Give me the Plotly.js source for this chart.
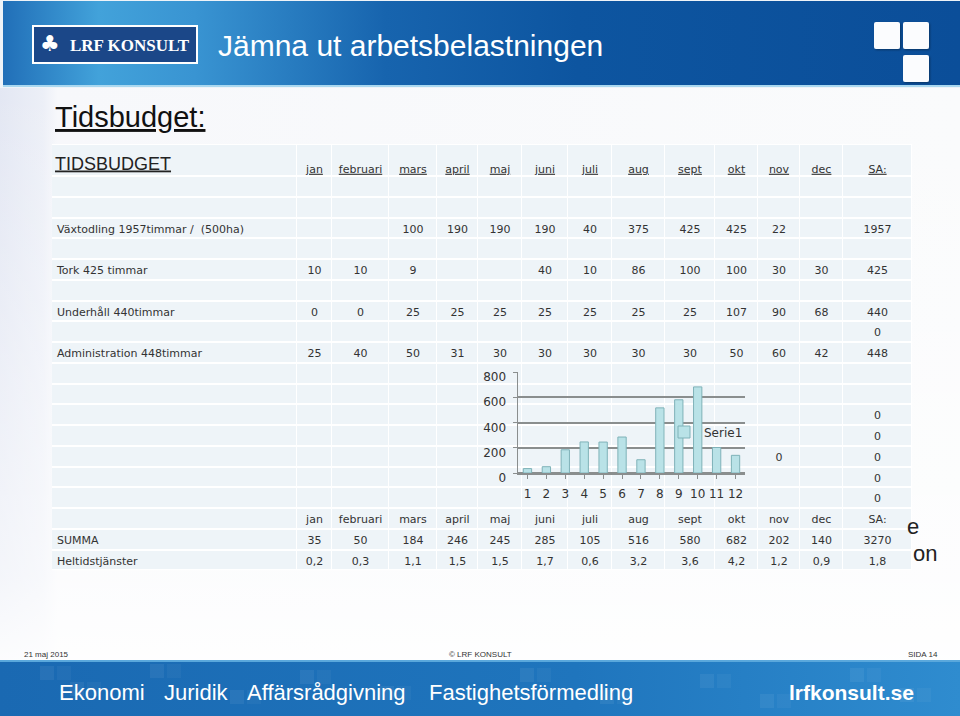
<!DOCTYPE html>
<html><head><meta charset="utf-8">
<script src="https://cdn.plot.ly/plotly-3.0.1.min.js"></script>
<style>html,body{margin:0;padding:0;background:#fff;overflow:hidden}#chart{width:960px;height:716px}</style>
</head><body><div id="chart"></div>
<script>
// ---------------- DATA ----------------
const tableTitle = 'TIDSBUDGET';
const months = ['jan','februari','mars','april','maj','juni','juli','aug','sept','okt','nov','dec'];
const totalHeader = 'SA:';
const rowLabels = ['Växtodling 1957timmar /  (500ha)','Tork 425 timmar','Underhåll 440timmar','Administration 448timmar','SUMMA','Heltidstjänster'];
const vaxtodling = [null,null,100,190,190,190,40,375,425,425,22,null];
const vaxtodlingTotal = 1957;
const tork = [10,10,9,null,null,40,10,86,100,100,30,30];
const torkTotal = 425;
const underhall = [0,0,25,25,25,25,25,25,25,107,90,68];
const underhallTotal = 440;
const administration = [25,40,50,31,30,30,30,30,30,50,60,42];
const administrationTotal = 448;
const summa = [35,50,184,246,245,285,105,516,580,682,202,140];
const summaTotal = 3270;
const heltidstjanster = ['0,2','0,3','1,1','1,5','1,5','1,7','0,6','3,2','3,6','4,2','1,2','0,9'];
const heltidTotal = '1,8';
const novZeros = [null,null,null,null,null,null,null,null,null,null,0,null];
const chartCategories = ['1','2','3','4','5','6','7','8','9','10','11','12'];
const chartSeriesName = 'Serie1';
const chartTicks = [0,200,400,600,800];

// ---------------- LAYOUT / STYLE ----------------
const W = 960, H = 716;
const px = x => x / W, py = y => 1 - y / H;
const colWidths = [245,35,57,48,41,44,46,44,53,50,43,42,43,69];
const headerHeight = 32, rowHeight = 20.75;
const tableLeft = 52, tableTop = 144;
const textColor = '#333333';
const bodyFont = 'DejaVu Sans, Verdana, sans-serif';

const blank = months.map(() => null);
const bodyRows = [
  ['', blank, null], ['', blank, null],
  [rowLabels[0], vaxtodling, vaxtodlingTotal],
  ['', blank, null],
  [rowLabels[1], tork, torkTotal],
  ['', blank, null],
  [rowLabels[2], underhall, underhallTotal],
  ['', blank, 0],
  [rowLabels[3], administration, administrationTotal],
  ['', blank, null], ['', blank, null],
  ['', blank, 0], ['', blank, 0],
  ['', novZeros, 0],
  ['', blank, 0], ['', blank, 0],
  ['', months, totalHeader],
  [rowLabels[4], summa, summaTotal],
  [rowLabels[5], heltidstjanster, heltidTotal]
];

const colEdges = [0]; colWidths.forEach(w => colEdges.push(colEdges[colEdges.length-1] + w));
const rowHeights = [headerHeight].concat(bodyRows.map(() => rowHeight));
const rowEdges = [0]; rowHeights.forEach(h => rowEdges.push(rowEdges[rowEdges.length-1] + h));
const tableW = colEdges[colEdges.length-1], tableH = rowEdges[rowEdges.length-1];
const colCenter = c => (colEdges[c] + colEdges[c+1]) / 2;
const rowCenter = r => (rowEdges[r] + rowEdges[r+1]) / 2;

const zGrid = rowHeights.map(() => colWidths.map(() => 1));
const gridTrace = {
  type: 'heatmap', x: colEdges, y: rowEdges, z: zGrid, xaxis: 'x', yaxis: 'y',
  colorscale: [[0,'#eef4f8'],[1,'#eef4f8']], showscale: false, xgap: 1, ygap: 2,
  hoverinfo: 'skip'
};

const headerTitle = {
  type: 'scatter', mode: 'text', xaxis: 'x', yaxis: 'y', hoverinfo: 'skip', showlegend: false,
  x: [3], y: [21], text: ['<u>' + tableTitle + '</u>'], textposition: 'middle right',
  textfont: {family: 'Liberation Sans, Arial, sans-serif', size: 18, color: '#222'}
};
const headerCols = months.concat([totalHeader]);
const headerMonths = {
  type: 'scatter', mode: 'text', xaxis: 'x', yaxis: 'y', hoverinfo: 'skip', showlegend: false,
  x: headerCols.map((m,i) => colCenter(i+1)), y: headerCols.map(() => 26),
  text: headerCols.map(m => '<u>' + m + '</u>'), textposition: 'middle center',
  textfont: {family: bodyFont, size: 11, color: textColor}
};

const lx = [], ly = [], lt = [], vx = [], vy = [], vt = [];
bodyRows.forEach((row, i) => {
  const r = i + 1, yy = rowCenter(r) + 2;
  if (row[0]) { lx.push(5); ly.push(yy); lt.push(row[0]); }
  row[1].forEach((v, c) => { if (v !== null) { vx.push(colCenter(c+1)); vy.push(yy); vt.push(String(v)); } });
  if (row[2] !== null) { vx.push(colCenter(13)); vy.push(yy); vt.push(String(row[2])); }
});
const labelText = {
  type: 'scatter', mode: 'text', xaxis: 'x', yaxis: 'y', hoverinfo: 'skip', showlegend: false,
  x: lx, y: ly, text: lt, textposition: 'middle right',
  textfont: {family: bodyFont, size: 11, color: textColor}
};
const valueText = {
  type: 'scatter', mode: 'text', xaxis: 'x', yaxis: 'y', hoverinfo: 'skip', showlegend: false,
  x: vx, y: vy, text: vt, textposition: 'middle center',
  textfont: {family: bodyFont, size: 11, color: textColor}
};

const barTrace = {
  type: 'bar', x: chartCategories, y: summa, name: chartSeriesName, xaxis: 'x2', yaxis: 'y2',
  marker: {color: '#b9e2e7', line: {color: '#7fb2b8', width: 1}}, showlegend: true,
  hoverinfo: 'x+y'
};

function svgURI(s) { return 'data:image/svg+xml;charset=utf-8,' + encodeURIComponent(s); }
const topSvg = `<svg xmlns="http://www.w3.org/2000/svg" width="960" height="88" viewBox="0 0 960 88">
<defs><linearGradient id="g" x1="0" y1="0" x2="1" y2="0">
<stop offset="0" stop-color="#216fb8"/><stop offset="0.1" stop-color="#42a2da"/>
<stop offset="0.2" stop-color="#3994d2"/><stop offset="0.4" stop-color="#1764ae"/>
<stop offset="0.6" stop-color="#0d55a0"/><stop offset="1" stop-color="#0b4e99"/></linearGradient>
<filter id="s"><feDropShadow dx="1" dy="1" stdDeviation="1" flood-opacity="0.35"/></filter></defs>
<rect x="0" y="0" width="960" height="88" fill="#eef3f8"/>
<rect x="3" y="1" width="957" height="84" fill="url(#g)"/>
<rect x="3" y="85" width="957" height="2" fill="#a9d8f0"/>
<g filter="url(#s)" fill="#fbfcfe">
<rect x="874" y="22" width="26" height="27" rx="2"/>
<rect x="903" y="22" width="26" height="27" rx="2"/>
<rect x="903" y="55" width="26" height="27" rx="2"/></g>
</svg>`;
let sq = '';
[[40,6],[70,22],[150,4],[230,30],[300,10],[380,26],[520,8],[600,30],[700,14],[760,34],[850,8],[900,28]].forEach(p => {
  sq += `<rect x="${p[0]}" y="${p[1]}" width="14" height="14" fill="#ffffff" fill-opacity="0.06"/>`;
  sq += `<rect x="${p[0]+17}" y="${p[1]}" width="14" height="14" fill="#ffffff" fill-opacity="0.04"/>`;
});
const footSvg = `<svg xmlns="http://www.w3.org/2000/svg" width="960" height="56" viewBox="0 0 960 56">
<defs><linearGradient id="f" x1="0" y1="0" x2="1" y2="0">
<stop offset="0" stop-color="#1a69b2"/><stop offset="0.6" stop-color="#1f75bd"/><stop offset="1" stop-color="#2f8ccf"/></linearGradient></defs>
<rect x="0" y="0" width="960" height="56" fill="url(#f)"/>
<rect x="0" y="0" width="960" height="2" fill="#5aa8dc"/>${sq}
</svg>`;
const bodySvg = `<svg xmlns="http://www.w3.org/2000/svg" width="960" height="574" viewBox="0 0 960 574">
<defs><linearGradient id="b" x1="0" y1="0" x2="1" y2="0">
<stop offset="0" stop-color="#e3e7f3"/><stop offset="0.045" stop-color="#eceff7"/>
<stop offset="0.06" stop-color="#f7f8fb"/><stop offset="1" stop-color="#fafbfc"/></linearGradient>
<linearGradient id="b2" x1="0" y1="0" x2="0" y2="1">
<stop offset="0" stop-color="#ffffff" stop-opacity="0"/><stop offset="0.85" stop-color="#ffffff" stop-opacity="0.6"/>
<stop offset="1" stop-color="#ffffff" stop-opacity="0.9"/></linearGradient></defs>
<rect x="0" y="0" width="960" height="574" fill="url(#b)"/>
<rect x="0" y="0" width="960" height="574" fill="url(#b2)"/>
</svg>`;

const images = [
  {source: svgURI(bodySvg), xref:'paper', yref:'paper', x:0, y:py(88), sizex:1, sizey:574/H, sizing:'stretch', xanchor:'left', yanchor:'top', layer:'below'},
  {source: svgURI(topSvg), xref:'paper', yref:'paper', x:0, y:1, sizex:1, sizey:88/H, sizing:'stretch', xanchor:'left', yanchor:'top', layer:'below'},
  {source: svgURI(footSvg), xref:'paper', yref:'paper', x:0, y:py(660), sizex:1, sizey:56/H, sizing:'stretch', xanchor:'left', yanchor:'top', layer:'below'}
];

const shapes = [
  {type:'rect', xref:'paper', yref:'paper', x0:px(33), x1:px(197), y0:py(63), y1:py(26), fillcolor:'#1b4788', line:{color:'#ffffff', width:2}, layer:'below'},
  {type:'rect', xref:'paper', yref:'paper', x0:px(tableLeft), x1:px(tableLeft+tableW), y0:py(tableTop+tableH), y1:py(tableTop), fillcolor:'#ffffff', line:{width:0}, layer:'below'}
];

const ann = (text, x, y, size, color, xanchor, family) => ({
  text, x: px(x), y: py(y), xref:'paper', yref:'paper', showarrow:false, xanchor: xanchor || 'left', yanchor:'middle',
  font:{family: family || 'Liberation Sans, Arial, sans-serif', size, color}
});

const annotations = [
  ann('♣', 50, 44, 22, '#ffffff', 'center', 'DejaVu Sans'),
  ann('<b>LRF KONSULT</b>', 130, 45, 17, '#ffffff', 'center', 'Liberation Serif, Times New Roman, serif'),
  ann('Jämna ut arbetsbelastningen', 216, 45, 30, '#ffffff', 'left'),
  ann('<u>Tidsbudget:</u>', 53, 117, 29, '#111111', 'left'),
  ann('e', 905, 526, 22, '#222222', 'left'),
  ann('on', 911, 553, 22, '#222222', 'left'),
  ann('21 maj 2015', 22, 654, 8, '#333333', 'left'),
  ann('© LRF KONSULT', 480, 654, 8, '#333333', 'center'),
  ann('SIDA 14', 940, 654, 8, '#333333', 'right'),
  ann('Ekonomi', 57, 692, 22, '#ffffff', 'left'),
  ann('Juridik', 162, 692, 22, '#ffffff', 'left'),
  ann('Affärsrådgivning', 245, 692, 22, '#ffffff', 'left'),
  ann('Fastighetsförmedling', 427, 692, 22, '#ffffff', 'left'),
  ann('<b>lrfkonsult.se</b>', 916, 692, 21, '#ffffff', 'right')
];

const gridCol = '#8a8e8e';
const layout = {
  width: W, height: H, margin: {l:0, r:0, t:0, b:0}, autosize: false,
  paper_bgcolor: '#f8f9fb', plot_bgcolor: 'rgba(0,0,0,0)',
  showlegend: true,
  legend: {x: px(664), y: py(432), xanchor:'left', yanchor:'middle', bgcolor:'rgba(0,0,0,0)',
           font:{family: bodyFont, size: 12, color: textColor}, itemwidth: 30},
  xaxis: {domain:[px(tableLeft), px(tableLeft+tableW)], range:[0, tableW], visible:false, fixedrange:true},
  yaxis: {domain:[py(tableTop+tableH), py(tableTop)], range:[tableH, 0], visible:false, fixedrange:true},
  xaxis2: {domain:[px(518), px(745)], anchor:'y2', type:'category', showgrid:false, showline:true, linecolor:gridCol, linewidth:2,
           ticks:'outside', ticklen:4, tickcolor:gridCol, tickfont:{family: bodyFont, size:12, color:textColor}, ticklabelstandoff:5, fixedrange:true},
  yaxis2: {domain:[py(473), py(372)], anchor:'x2', range:[0,800], tickvals: chartTicks, showgrid:true, gridcolor:gridCol, gridwidth:2,
           zeroline:true, zerolinecolor:gridCol, zerolinewidth:2, showline:true, linecolor:gridCol, linewidth:1.5,
           ticks:'outside', ticklen:4, tickcolor:gridCol, tickfont:{family: bodyFont, size:12, color:textColor}, ticklabelstandoff:4, ticklabelshift:5, fixedrange:true},
  bargap: 0.56,
  images, shapes, annotations
};

Plotly.newPlot('chart', [gridTrace, headerTitle, headerMonths, labelText, valueText, barTrace], layout, {displayModeBar:false, staticPlot:true});
</script></body></html>
